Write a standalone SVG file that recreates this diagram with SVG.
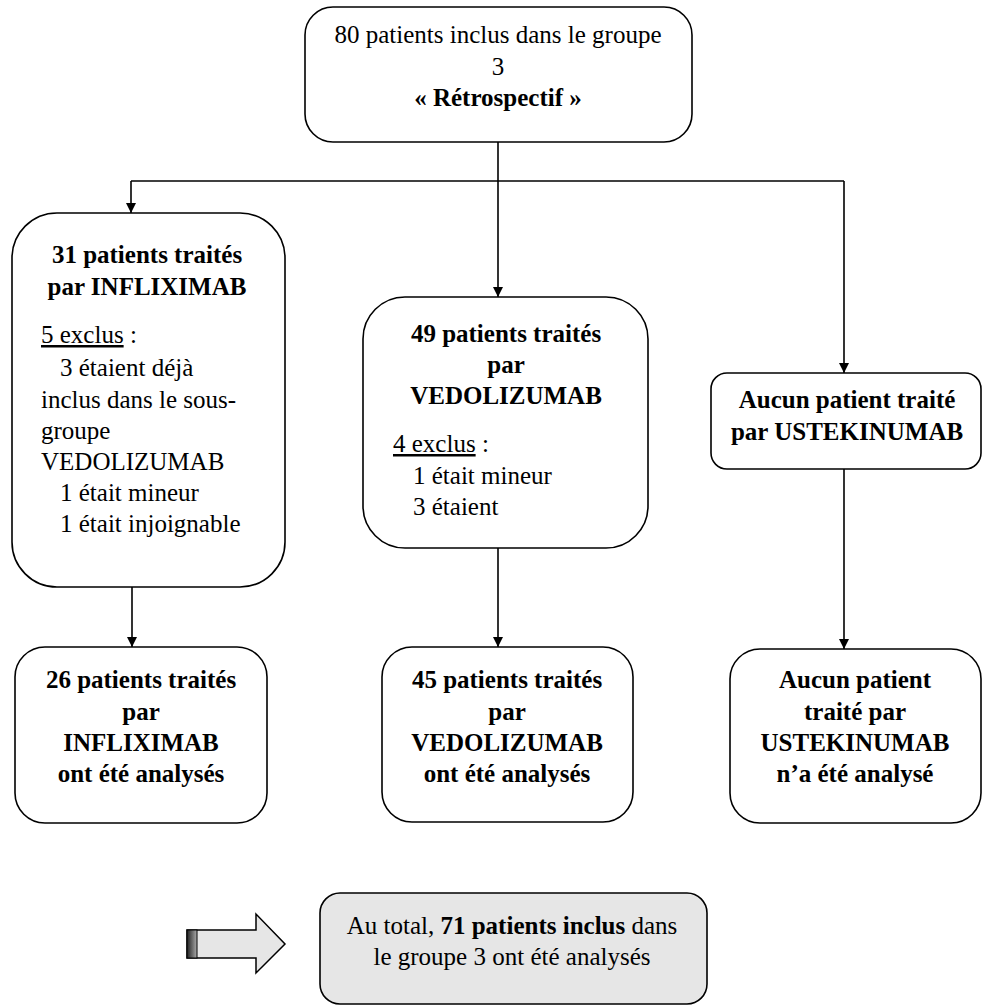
<svg xmlns="http://www.w3.org/2000/svg" width="985" height="1006" viewBox="0 0 985 1006">
<style>
.box{fill:#fff;stroke:#000;stroke-width:1.6}
.gray{fill:#e6e6e6;stroke:#000;stroke-width:1.6}
text{font-family:"Liberation Serif","Times New Roman",serif;font-size:25px;fill:#000}
.c{text-anchor:middle}
.b{font-weight:bold}
.ln{stroke:#000;stroke-width:1.6;fill:none}
</style>
<defs>
<marker id="ah" viewBox="0 0 10 10" refX="10" refY="5" markerWidth="10" markerHeight="11" markerUnits="userSpaceOnUse" orient="auto">
<path d="M0,0 L10,5 L0,10 z" fill="#000"/>
</marker>
<linearGradient id="tail" x1="0" y1="0" x2="1" y2="0">
<stop offset="0" stop-color="#222"/>
<stop offset="1" stop-color="#aaa"/>
</linearGradient>
</defs>

<g id="connectors">
<line class="ln" x1="498" y1="142" x2="498" y2="297" marker-end="url(#ah)"/>
<line class="ln" x1="131" y1="181" x2="844" y2="181"/>
<line class="ln" x1="131" y1="181" x2="131" y2="213" marker-end="url(#ah)"/>
<line class="ln" x1="844" y1="181" x2="844" y2="373" marker-end="url(#ah)"/>
<line class="ln" x1="132" y1="587" x2="132" y2="647" marker-end="url(#ah)"/>
<line class="ln" x1="498" y1="548" x2="498" y2="647" marker-end="url(#ah)"/>
<line class="ln" x1="844" y1="469" x2="844" y2="649" marker-end="url(#ah)"/>
</g>

<g id="top">
<rect class="box" x="305" y="7" width="387" height="135" rx="28"/>
<text class="c" x="498" y="43">80 patients inclus dans le groupe</text>
<text class="c" x="498" y="75">3</text>
<text class="c b" x="498" y="106">« Rétrospectif »</text>
</g>

<g id="infliximab">
<rect class="box" x="12" y="213" width="273" height="374" rx="45"/>
<text class="c b" x="147" y="263">31 patients traités</text>
<text class="c b" x="147" y="295">par INFLIXIMAB</text>
<text x="41" y="343"><tspan text-decoration="underline">5 exclus</tspan> :</text>
<text x="60" y="376">3 étaient déjà</text>
<text x="41" y="408">inclus dans le sous-</text>
<text x="41" y="439">groupe</text>
<text x="41" y="470">VEDOLIZUMAB</text>
<text x="60" y="501">1 était mineur</text>
<text x="60" y="532">1 était injoignable</text>
</g>

<g id="vedolizumab">
<rect class="box" x="363" y="297" width="285" height="251" rx="42"/>
<text class="c b" x="506" y="342">49 patients traités</text>
<text class="c b" x="506" y="373">par</text>
<text class="c b" x="506" y="404">VEDOLIZUMAB</text>
<text x="393" y="452"><tspan text-decoration="underline">4 exclus</tspan> :</text>
<text x="413" y="484">1 était mineur</text>
<text x="413" y="515">3 étaient</text>
</g>

<g id="ustekinumab">
<rect class="box" x="711" y="373" width="270" height="96" rx="16"/>
<text class="c b" x="847" y="408">Aucun patient traité</text>
<text class="c b" x="847" y="440">par USTEKINUMAB</text>
</g>

<g id="infliximab-analyses">
<rect class="box" x="15" y="647" width="252" height="176" rx="30"/>
<text class="c b" x="141" y="688">26 patients traités</text>
<text class="c b" x="141" y="720">par</text>
<text class="c b" x="141" y="751">INFLIXIMAB</text>
<text class="c b" x="141" y="782">ont été analysés</text>
</g>

<g id="vedolizumab-analyses">
<rect class="box" x="382" y="647" width="251" height="175" rx="30"/>
<text class="c b" x="507" y="688">45 patients traités</text>
<text class="c b" x="507" y="720">par</text>
<text class="c b" x="507" y="751">VEDOLIZUMAB</text>
<text class="c b" x="507" y="782">ont été analysés</text>
</g>

<g id="ustekinumab-analyses">
<rect class="box" x="730" y="649" width="251" height="174" rx="30"/>
<text class="c b" x="855" y="688">Aucun patient</text>
<text class="c b" x="855" y="720">traité par</text>
<text class="c b" x="855" y="751">USTEKINUMAB</text>
<text class="c b" x="855" y="782">n’a été analysé</text>
</g>

<g id="big-arrow">
<path d="M187,930 L256,930 L256,914 L285,944 L256,973 L256,958 L187,958 Z" fill="#e6e6e6" stroke="#000" stroke-width="1.5"/>
<rect x="187" y="930" width="10" height="28" fill="url(#tail)" stroke="#000" stroke-width="1"/>
</g>

<g id="total">
<rect class="gray" x="320" y="893" width="387" height="111" rx="20"/>
<text class="c" x="512" y="934">Au total, <tspan class="b">71 patients inclus</tspan> dans</text>
<text class="c" x="512" y="965">le groupe 3 ont été analysés</text>
</g>
</svg>
